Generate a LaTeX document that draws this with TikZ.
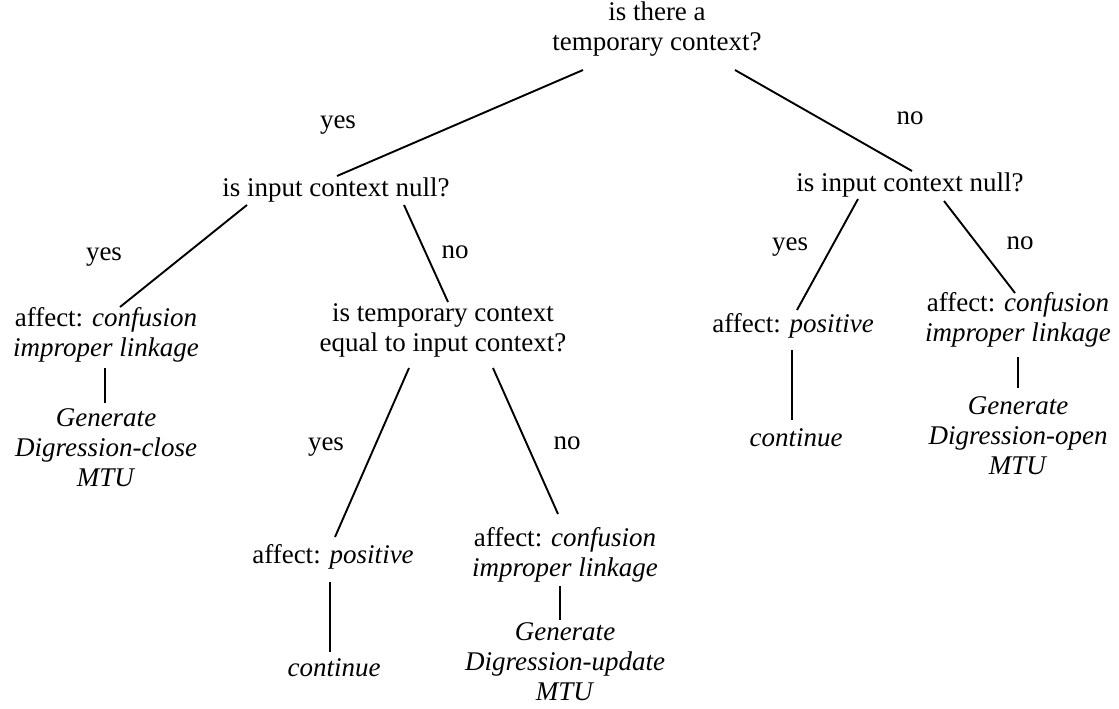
\documentclass[tikz,border=0pt]{standalone}
\usepackage{fontspec}
\setmainfont{Liberation Serif}
\usetikzlibrary{calc}
\begin{document}
\begin{tikzpicture}[x=1pt,y=-1pt,
  txt/.style={inner sep=0pt,align=center,font=\fontsize{27}{30}\selectfont},
  lbl/.style={inner sep=0pt,font=\fontsize{27}{30}\selectfont},
  edge/.style={line width=1.9pt}]
\useasboundingbox (0,0) rectangle (1119,709);

% decision nodes
\node[txt] (root) at (657,29) {is there a\\temporary context?};
\node[txt] (nA) at (336,190) {is input context null?};
\node[txt] (nB) at (910,185) {is input context null?};
\node[txt] (LR) at (443,330) {is temporary context\\equal to input context?};

% outcome nodes
\node[txt] (LL) at (106,335) {affect: \textit{confusion}\\\textit{improper linkage}};
\node[txt] (LLg) at (106,448) {\textit{Generate}\\\textit{Digression-close}\\\textit{MTU}};
\node[txt] (RL) at (793,326) {affect: \textit{positive}};
\node[txt] (RLc) at (796,438) {\textit{continue}};
\node[txt] (RR) at (1018,320) {affect: \textit{confusion}\\\textit{improper linkage}};
\node[txt] (RRg) at (1018,436) {\textit{Generate}\\\textit{Digression-open}\\\textit{MTU}};
\node[txt] (LRL) at (333,557) {affect: \textit{positive}};
\node[txt] (LRLc) at (334,668) {\textit{continue}};
\node[txt] (LRR) at (565,555) {affect: \textit{confusion}\\\textit{improper linkage}};
\node[txt] (LRRg) at (565,662) {\textit{Generate}\\\textit{Digression-update}\\\textit{MTU}};

% branch labels
\node[lbl] (y1) at (338,125) {yes};
\node[lbl] (n1) at (910,118) {no};
\node[lbl] (y2) at (104,257) {yes};
\node[lbl] (n2) at (455,252) {no};
\node[lbl] (y3) at (790,247) {yes};
\node[lbl] (n3) at (1020,243) {no};
\node[lbl] (y4) at (326,447) {yes};
\node[lbl] (n4) at (567,443) {no};

% branches
\draw[edge] ($(root.center)+(-74,41)$) -- ($(nA.center)+(1,-14)$);
\draw[edge] ($(root.center)+(78,41)$) -- ($(nB.center)+(2,-14)$);
\draw[edge] ($(nA.center)+(-89,15)$) -- ($(LL.center)+(14,-28)$);
\draw[edge] ($(nA.center)+(68,15)$) -- ($(LR.center)+(5,-28)$);
\draw[edge] ($(nB.center)+(-52,14)$) -- ($(RL.center)+(4,-16)$);
\draw[edge] ($(nB.center)+(34,16)$) -- ($(RR.center)+(-3,-27)$);
\draw[edge] ($(LR.center)+(-34,38)$) -- ($(LRL.center)+(2,-20)$);
\draw[edge] ($(LR.center)+(50,38)$) -- ($(LRR.center)+(-7,-41)$);

% action links
\draw[edge] ($(LL.center)+(-1,33)$) -- ($(LLg.center)+(-1,-45)$);
\draw[edge] ($(RL.center)+(-1,24)$) -- ($(RLc.center)+(-4,-18)$);
\draw[edge] ($(RR.center)+(0,37)$) -- ($(RRg.center)+(0,-48)$);
\draw[edge] ($(LRL.center)+(-3,25)$) -- ($(LRLc.center)+(-4,-16)$);
\draw[edge] ($(LRR.center)+(-5,31)$) -- ($(LRRg.center)+(-5,-42)$);
\end{tikzpicture}
\end{document}
